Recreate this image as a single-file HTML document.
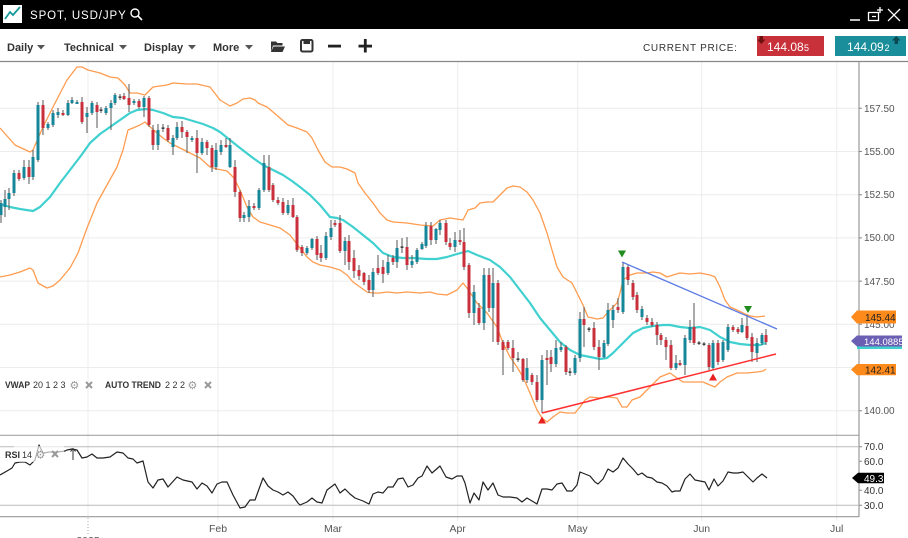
<!DOCTYPE html>
<html><head><meta charset="utf-8"><style>
html,body{margin:0;padding:0;background:#fff;width:908px;height:538px;overflow:hidden}
svg{display:block;font-family:"Liberation Sans","DejaVu Sans",sans-serif}
</style></head><body>
<svg width="908" height="538" viewBox="0 0 908 538" xmlns="http://www.w3.org/2000/svg">
<!-- top bar -->
<rect x="0" y="0" width="908" height="29" fill="#000"/>
<rect x="3" y="5" width="19" height="18" fill="#fff"/>
<polyline points="5,19 10,12 13,15 20,7" fill="none" stroke="#1a9a9a" stroke-width="1.8"/>
<text x="30" y="19" fill="#fff" font-size="11.5" letter-spacing="0.9">SPOT, USD/JPY</text>
<circle cx="135" cy="13" r="4" fill="none" stroke="#fff" stroke-width="1.4"/>
<line x1="138" y1="16" x2="142" y2="20" stroke="#fff" stroke-width="1.6"/>
<line x1="850" y1="20" x2="860" y2="20" stroke="#fff" stroke-width="1.5"/>
<rect x="868.5" y="12.5" width="10" height="8" fill="none" stroke="#fff" stroke-width="1.3"/>
<line x1="872" y1="16.5" x2="876" y2="16.5" stroke="#fff" stroke-width="1.2"/>
<path d="M880 7v6M877 10h6" stroke="#fff" stroke-width="1.3"/>
<path d="M888 9L900 21M900 9L888 21" stroke="#fff" stroke-width="1.3"/>

<!-- toolbar -->
<g font-weight="bold" font-size="11" fill="#333">
<text x="7" y="51">Daily</text>
<text x="64" y="51">Technical</text>
<text x="144" y="51">Display</text>
<text x="213" y="51">More</text>
</g>
<g fill="#555">
<polygon points="37,45 45,45 41,49.5"/>
<polygon points="119,45 127,45 123,49.5"/>
<polygon points="188,45 196,45 192,49.5"/>
<polygon points="245,45 253,45 249,49.5"/>
</g>
<path d="M271 41.5h5l1.5 1.5h5v2.5h-9.5l-2 6.5z" fill="#333"/>
<path d="M273.5 46.5h11.5l-2.5 5.5h-11.5z" fill="#333"/>
<rect x="301" y="40" width="11.5" height="11.5" rx="1.5" fill="none" stroke="#333" stroke-width="2"/>
<rect x="303.5" y="40" width="6.5" height="4" fill="#333"/>
<rect x="328" y="44.7" width="13" height="2.8" fill="#222"/>
<rect x="358.5" y="44.7" width="13.5" height="2.8" fill="#222"/>
<rect x="363.9" y="39" width="2.8" height="13.5" fill="#222"/>
<text x="643" y="51" font-size="10" fill="#333" letter-spacing="0.7">CURRENT PRICE:</text>
<rect x="757" y="36" width="67" height="20" fill="#c8303a"/>
<polygon points="759.5,36 763,36 763,39.5 765.5,39.5 761.25,44 757,39.5 759.5,39.5" fill="#6e1010"/>
<text x="767" y="51" font-size="12" fill="#fff">144.08</text>
<text x="804" y="51" font-size="9" fill="#fff">5</text>
<rect x="835" y="36" width="71" height="20" fill="#1a8f9b"/>
<polygon points="894.5,44 898,44 898,40.5 900.5,40.5 896.25,36 892,40.5 894.5,40.5" fill="#0b4a52"/>
<text x="847" y="51" font-size="12" fill="#fff">144.09</text>
<text x="884.5" y="51" font-size="9" fill="#fff">2</text>

<!-- grid -->
<g stroke="#ececec" stroke-width="1">
<path d="M0 108.3H859M0 151.5H859M0 194.7H859M0 237.9H859M0 281.1H859M0 324.3H859M0 367.5H859M0 410.7H859"/>
<path d="M88 62V517M218 62V521M333 62V521M457.7 62V521M577.7 62V521M701.7 62V521M836.7 62V521"/>
</g>
<line x1="88" y1="518" x2="88" y2="534" stroke="#aaa" stroke-dasharray="1,2"/>
<line x1="0" y1="61.5" x2="908" y2="61.5" stroke="#888" stroke-width="1.2"/>
<line x1="859" y1="61.5" x2="859" y2="517" stroke="#999" stroke-width="1.2"/>
<line x1="0" y1="435.3" x2="859" y2="435.3" stroke="#999"/>
<line x1="0" y1="446.7" x2="859" y2="446.7" stroke="#bbb"/>
<line x1="0" y1="505.3" x2="859" y2="505.3" stroke="#bbb"/>
<line x1="0" y1="516.7" x2="859" y2="516.7" stroke="#999" stroke-width="1.2"/>
<path d="M859 108.3h3M859 151.5h3M859 194.7h3M859 237.9h3M859 281.1h3M859 324.3h3M859 410.7h3M859 446.7h3M859 461.3h3M859 490.3h3M859 505.3h3" stroke="#888"/>

<!-- axis labels -->
<g font-size="10" fill="#555">
<text x="864" y="112">157.50</text>
<text x="864" y="155">155.00</text>
<text x="864" y="198">152.50</text>
<text x="864" y="241">150.00</text>
<text x="864" y="285">147.50</text>
<text x="864" y="328">145.00</text>
<text x="864" y="414">140.00</text>
</g>
<g font-size="10" fill="#333">
<text x="864" y="450">70.0</text>
<text x="864" y="465">60.0</text>
<text x="864" y="494">40.0</text>
<text x="864" y="509">30.0</text>
</g>
<g font-size="10.5" fill="#555" text-anchor="middle">
<text x="218" y="532">Feb</text>
<text x="333" y="532">Mar</text>
<text x="457.7" y="532">Apr</text>
<text x="577.7" y="532">May</text>
<text x="701.7" y="532">Jun</text>
<text x="836.7" y="532">Jul</text>
<text x="88" y="544">2025</text>
</g>

<!-- bollinger bands -->
<g fill="none" stroke="#ff9c4f" stroke-width="1.3" stroke-linejoin="round">
<polyline points="0,128 15,145 30,152 33,150 43,127 53,107 67,80 77,67 82,67 88,70 100,73 110,77 118,78 125,85 130,93 137,93 145,95 153,87 167,85 173,83 187,84 197,84 210,87 220,100 230,106 237,103 243,99 250,98 255,100 258,103 267,107 273,112 280,118 288,125 297,128 307,132 312,138 318,150 325,162 332,167 340,167 347,169 355,173 358,183 365,193 373,203 380,213 387,220 393,222 407,223 420,225 433,226 440,220 450,218 463,220 468,210 475,208 480,203 487,202 493,202 500,195 507,188 513,186 520,187 527,192 533,200 540,213 547,233 552,250 557,267 563,277 572,283 577,293 583,305 588,317 597,319 603,318 608,312 613,307 617,303 620,293 623,280 630,275 637,273 647,273 653,272 660,273 667,277 673,275 680,273 690,274 700,273 710,275 715,277 720,287 725,300 730,307 737,310 743,313 750,316 757,317 765,316"/>
<polyline points="0,277 10,275 20,272 30,268 33,270 38,283 47,288 53,286 60,280 70,268 78,253 87,228 97,203 107,185 117,167 123,150 128,130 133,128 140,125 145,122 148,125 157,133 163,138 170,143 180,148 190,153 200,158 210,167 217,169 227,171 234,178 240,190 247,207 253,217 260,222 270,225 280,228 290,235 300,248 307,257 313,262 320,265 330,267 340,270 347,275 353,282 360,287 367,292 373,293 380,293 387,292 397,293 407,292 420,293 430,292 437,294 447,295 453,292 457,290 463,283 467,288 477,303 487,313 497,327 503,343 510,357 517,367 523,377 530,393 537,410 542,418 547,422 553,417 560,412 567,413 575,413 580,407 585,400 590,397 600,398 608,397 617,398 622,407 627,407 632,400 640,397 650,387 660,377 670,373 677,378 683,382 693,382 703,382 710,385 715,387 720,382 727,377 737,373 747,373 757,372 763,371 766,369"/>
</g>
<polyline fill="none" stroke="#40d0d0" stroke-width="2.2" stroke-linejoin="round" points="0,204 10,207 20,209 33,211 40,207 50,197 60,183 70,170 80,157 90,143 100,134 110,127 120,120 130,113 137,110 147,109 153,110 163,113 173,117 183,118 193,121 203,124 213,128 220,132 230,140 240,148 253,158 263,165 273,170 283,175 292,181 300,187 310,195 320,205 330,217 337,218 343,220 353,227 363,235 373,243 383,253 393,257 403,258 413,258 427,259 437,259 447,257 457,254 468,251 477,255 490,260 500,267 510,277 520,290 530,303 540,318 550,330 560,342 570,350 580,355 590,357 600,359 607,358 613,353 623,343 633,333 643,328 653,326 663,325 670,325 680,327 690,328 700,327 710,330 720,337 730,342 740,344 750,345 760,345 766,343"/>

<!-- candles -->
<path fill="none" stroke="#555" stroke-width="1" d="M1 200V223M5 190V217M9 188V210M14 170V196M19 170V181M24 160V180M29 160V184M33 150V180M38 102V162M43 100V135M48 122V130M53 110V127M58 108V118M63 110V116M68 100V116M72 97V104M77 100V104M82 97V124M87 107V133M92 101V115M97 102V128M101 107V113M106 106V115M111 100V130M115 93V105M120 94V100M124 93V100M129 84V112M134 99V105M139 99V109M144 96V117M149 96V127M153 125V150M158 124V150M163 124V132M168 125V142M173 135V155M177 122V140M182 121V138M187 130V153M192 136V142M197 130V173M202 138V155M207 140V155M212 145V172M216 143V170M221 140V155M226 138V148M230 138V168M235 160V197M240 190V222M244 212V222M249 200V222M254 203V210M259 188V210M264 155V192M269 155V192M273 183V202M278 197V205M283 198V215M288 200V215M293 198V218M297 215V252M302 245V256M307 246V255M312 238V250M317 236V260M321 245V262M326 232V260M331 220V240M335 220V227M340 215V253M345 237V265M349 235V270M354 250V278M359 265V280M364 272V285M369 275V293M373 268V297M378 255V275M383 260V283M388 255V275M393 255V265M397 240V268M402 238V253M407 237V270M412 255V268M417 248V264M422 242V250M426 222V248M431 222V245M436 228V244M440 220V235M446 220V245M450 238V250M455 232V252M460 230V245M464 228V270M469 263V318M474 285V325M479 303V325M484 268V330M489 268V312M493 268V342M498 280V345M503 340V375M508 340V350M513 340V372M518 352V362M523 358V382M527 358V383M532 373V385M537 375V402M542 355V413M547 350V385M551 350V372M556 340V367M561 342V352M566 345V375M570 368V376M575 355V375M580 312V362M584 307V347M589 327V332M594 322V350M599 340V370M604 340V358M608 303V346M613 305V328M618 298V313M623 262V314M628 265V285M633 280V300M637 292V313M642 306V320M647 315V325M652 318V327M657 322V345M661 333V345M666 337V360M671 340V370M676 355V370M680 360V366M685 335V375M690 320V343M694 303V345M699 341V345M704 342V346M709 343V370M713 340V370M718 340V365M723 340V362M728 324V352M733 325V332M738 327V334M742 318V333M747 315V340M752 333V362M757 338V362M762 333V345M766 329V345"/>
<path fill="#16879a" d="M-0.5 203h3V215h-3ZM3.5 199h3V207h-3ZM7.5 193h3V199h-3ZM12.5 173h3V193h-3ZM22.5 167h3V178h-3ZM31.5 157h3V177h-3ZM36.5 105h3V160h-3ZM46.5 124h3V128h-3ZM51.5 113h3V125h-3ZM56.5 112h3V115h-3ZM66.5 103h3V115h-3ZM70.5 100h3V103h-3ZM75.5 102h3V104h-3ZM85.5 113h3V117h-3ZM90.5 103h3V113h-3ZM104.5 108h3V113h-3ZM109.5 103h3V108h-3ZM113.5 95h3V103h-3ZM132.5 101h3V103h-3ZM142.5 98h3V107h-3ZM156.5 130h3V145h-3ZM171.5 138h3V147h-3ZM175.5 127h3V138h-3ZM190.5 138h3V140h-3ZM200.5 142h3V153h-3ZM214.5 150h3V167h-3ZM219.5 145h3V152h-3ZM228.5 145h3V167h-3ZM242.5 215h3V218h-3ZM247.5 206h3V217h-3ZM257.5 190h3V208h-3ZM262.5 163h3V190h-3ZM286.5 205h3V213h-3ZM305.5 248h3V253h-3ZM310.5 239h3V248h-3ZM324.5 236h3V258h-3ZM329.5 228h3V237h-3ZM343.5 241h3V251h-3ZM371.5 272h3V290h-3ZM386.5 262h3V273h-3ZM395.5 248h3V262h-3ZM410.5 261h3V265h-3ZM415.5 250h3V262h-3ZM420.5 244h3V249h-3ZM424.5 226h3V246h-3ZM434.5 229h3V240h-3ZM438.5 223h3V230h-3ZM453.5 240h3V247h-3ZM472.5 292h3V313h-3ZM482.5 275h3V323h-3ZM491.5 283h3V308h-3ZM525.5 368h3V380h-3ZM540.5 360h3V400h-3ZM554.5 348h3V364h-3ZM559.5 347h3V350h-3ZM573.5 358h3V373h-3ZM578.5 319h3V358h-3ZM602.5 343h3V357h-3ZM606.5 310h3V344h-3ZM611.5 310h3V320h-3ZM621.5 267h3V312h-3ZM640.5 309h3V317h-3ZM674.5 363h3V368h-3ZM683.5 338h3V365h-3ZM688.5 327h3V340h-3ZM711.5 343h3V368h-3ZM721.5 342h3V360h-3ZM726.5 327h3V350h-3ZM740.5 325h3V332h-3ZM755.5 343h3V353h-3ZM760.5 335h3V343h-3Z"/>
<path fill="#c9303c" d="M17.5 173h3V179h-3ZM27.5 167h3V177h-3ZM41.5 105h3V128h-3ZM61.5 113h3V115h-3ZM80.5 102h3V122h-3ZM95.5 105h3V112h-3ZM122.5 96h3V99h-3ZM127.5 98h3V105h-3ZM137.5 101h3V107h-3ZM147.5 98h3V125h-3ZM151.5 130h3V145h-3ZM166.5 128h3V140h-3ZM180.5 127h3V132h-3ZM185.5 132h3V137h-3ZM195.5 138h3V153h-3ZM205.5 142h3V148h-3ZM210.5 148h3V167h-3ZM224.5 145h3V147h-3ZM233.5 167h3V192h-3ZM238.5 192h3V218h-3ZM252.5 206h3V208h-3ZM267.5 167h3V190h-3ZM271.5 185h3V200h-3ZM276.5 200h3V203h-3ZM281.5 202h3V213h-3ZM291.5 205h3V217h-3ZM295.5 217h3V250h-3ZM300.5 247h3V253h-3ZM315.5 239h3V255h-3ZM319.5 253h3V258h-3ZM333.5 223h3V225h-3ZM338.5 223h3V251h-3ZM347.5 241h3V262h-3ZM352.5 258h3V271h-3ZM357.5 270h3V276h-3ZM362.5 273h3V282h-3ZM367.5 280h3V290h-3ZM376.5 268h3V273h-3ZM381.5 267h3V274h-3ZM391.5 258h3V262h-3ZM405.5 247h3V265h-3ZM429.5 226h3V240h-3ZM444.5 223h3V242h-3ZM448.5 243h3V247h-3ZM458.5 240h3V242h-3ZM462.5 242h3V267h-3ZM467.5 265h3V313h-3ZM477.5 308h3V323h-3ZM487.5 275h3V308h-3ZM496.5 283h3V342h-3ZM501.5 342h3V350h-3ZM506.5 342h3V348h-3ZM511.5 348h3V358h-3ZM521.5 359h3V380h-3ZM530.5 375h3V382h-3ZM535.5 382h3V400h-3ZM545.5 358h3V360h-3ZM549.5 357h3V364h-3ZM564.5 347h3V372h-3ZM582.5 319h3V325h-3ZM592.5 328h3V347h-3ZM597.5 347h3V357h-3ZM616.5 307h3V310h-3ZM626.5 267h3V280h-3ZM631.5 283h3V297h-3ZM635.5 295h3V310h-3ZM645.5 318h3V322h-3ZM650.5 322h3V325h-3ZM655.5 325h3V335h-3ZM659.5 335h3V340h-3ZM664.5 340h3V347h-3ZM669.5 345h3V368h-3ZM678.5 363h3V365h-3ZM692.5 327h3V343h-3ZM707.5 345h3V367h-3ZM716.5 343h3V362h-3ZM731.5 327h3V330h-3ZM736.5 329h3V332h-3ZM745.5 326h3V338h-3ZM750.5 337h3V352h-3ZM764.5 335h3V342h-3Z"/>
<path fill="#222" d="M99.5 109.5h3v1.2h-3ZM118.5 96.5h3v1.2h-3ZM161.5 127.5h3v1.2h-3ZM400.5 246.5h3v1.2h-3ZM516.5 358.5h3v1.2h-3ZM568.5 371.5h3v1.2h-3ZM587.5 328.5h3v1.2h-3ZM697.5 342.5h3v1.2h-3ZM702.5 343.5h3v1.2h-3Z"/>

<!-- trend lines & markers -->
<line x1="622" y1="262" x2="777" y2="329" stroke="#5c7ce6" stroke-width="1.3"/>
<line x1="542" y1="413" x2="776" y2="354" stroke="#ff3030" stroke-width="1.5"/>
<polygon points="618,250.5 626,250.5 622,257.5" fill="#1e8c1e"/>
<polygon points="744,306 752,306 748,313" fill="#1e8c1e"/>
<polygon points="538,423.5 546,423.5 542,416.5" fill="#e82020"/>
<polygon points="709,380.5 717,380.5 713,373.5" fill="#e82020"/>

<!-- RSI -->
<polyline fill="none" stroke="#222" stroke-width="1.2" stroke-linejoin="round" points="0,475 7,471 12,468 15,463 20,462 25,462 30,465 35,460 39,445 43,453 50,452 57,452 65,451 67,450 72,449 77,450 82,458 87,457 92,454 97,458 103,458 110,457 117,452 123,453 128,458 133,459 137,463 143,461 148,482 153,488 158,480 163,479 168,487 177,477 183,480 192,482 197,489 202,483 207,486 212,493 217,484 222,482 227,482 233,495 240,508 245,507 250,500 255,500 263,478 268,486 273,490 278,492 283,495 288,492 293,496 298,503 300,505 307,502 312,498 317,502 322,503 327,490 335,484 340,493 345,489 350,494 355,498 363,501 369,504 373,494 378,492 383,493 388,487 393,487 398,479 403,478 408,487 413,485 418,478 422,476 427,466 432,473 440,466 446,477 452,479 457,476 462,476 465,483 470,503 474,493 479,500 483,482 488,490 493,483 498,495 503,497 510,497 517,498 522,502 527,498 532,501 537,504 542,489 547,489 552,490 557,484 562,483 567,491 572,491 577,485 580,472 585,474 590,476 595,482 598,484 603,479 608,469 613,472 618,468 623,458 628,464 633,469 638,475 642,473 647,477 652,478 657,482 662,483 667,486 672,492 675,491 680,491 685,479 690,474 695,480 700,481 705,482 709,490 714,479 718,486 723,481 728,472 733,473 738,473 743,472 748,477 753,482 757,478 762,474 767,478"/>
<rect x="14" y="446" width="50" height="16" fill="#fff" opacity="0.65"/>
<path d="M73 449V460M70.5 451.5L73 448.5L75.5 451.5" fill="none" stroke="#333" stroke-width="1"/>

<!-- legends -->
<g font-size="9" fill="#333">
<text x="5" y="388" font-weight="bold" textLength="25" lengthAdjust="spacingAndGlyphs">VWAP</text>
<text x="33" y="388">20 1 2 3</text>
<text x="105" y="388" font-weight="bold" textLength="56" lengthAdjust="spacingAndGlyphs">AUTO TREND</text>
<text x="165" y="388">2 2 2</text>
<text x="5" y="458" font-weight="bold">RSI</text>
<text x="22" y="458">14</text>
</g>
<g font-family="DejaVu Sans,sans-serif" font-size="11" fill="#999">
<text x="69.5" y="389">⚙</text>
<text x="187.5" y="389">⚙</text>
<text x="35.5" y="458.5">⚙</text>
</g>
<path d="M86 382L92 388M92 382L86 388M205 382L211 388M211 382L205 388M52 451L58 457M58 451L52 457" stroke="#999" stroke-width="2"/>

<!-- price tags -->
<polygon points="851,317 857,310.5 896,310.5 896,323.5 857,323.5" fill="#ff8a1c"/>
<text x="865" y="321" font-size="10" fill="#222">145.44</text>
<rect x="857" y="345" width="45" height="4" fill="#40d0d0"/>
<polygon points="851,341 857,335.5 902,335.5 902,346.5 857,346.5" fill="#6a5fb3"/>
<text x="864" y="345" font-size="9.5" fill="#fff">144.0885</text>
<polygon points="851,369.5 857,364 896,364 896,375.3 857,375.3" fill="#ff8a1c"/>
<text x="865" y="373.5" font-size="10" fill="#222">142.41</text>
<polygon points="852,478 858,472.7 884,472.7 884,483.3 858,483.3" fill="#000"/>
<text x="864" y="482" font-size="10" fill="#fff">49.3</text>
</svg>
</body></html>
